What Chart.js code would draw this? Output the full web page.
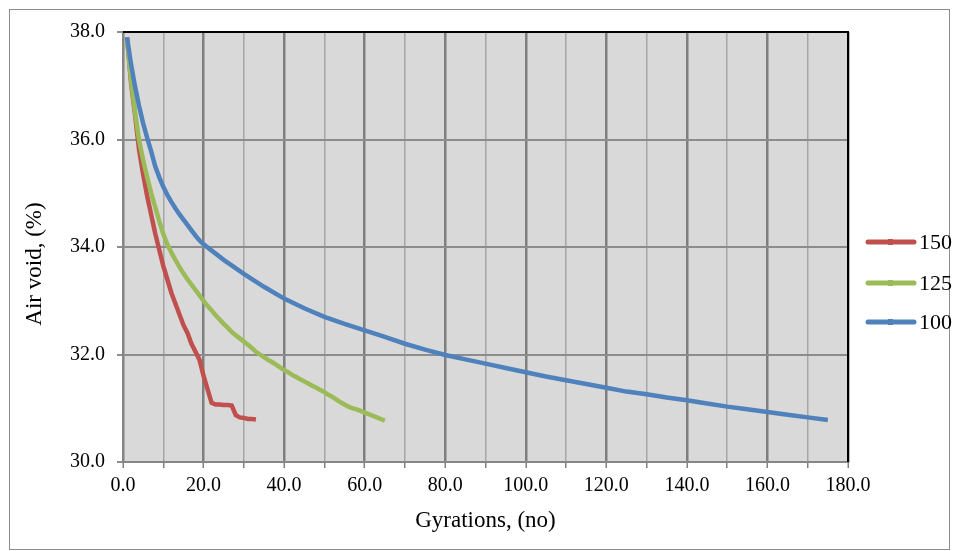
<!DOCTYPE html>
<html lang="en">
<head>
<meta charset="UTF-8">
<title>Air void vs gyrations</title>
<script src="https://cdn.jsdelivr.net/npm/chart.js"></script>
<style>
  html, body { margin: 0; padding: 0; background: #fff; }
</style>
</head>
<body>
<canvas id="myChart" width="958" height="551"></canvas>
<script>
  // series labels (legend order)
  const seriesNames = ['150', '125', '100'];

  // 150 series
  const gyr150 = [1, 2, 3, 4, 5, 6, 7, 8, 9, 10, 11, 12, 13, 14, 15, 16, 17, 18, 19, 20,
    21, 22, 23, 24, 25, 26, 27, 28, 29, 30, 31, 32, 33];
  const void150 = [37.90, 37.05, 36.45, 35.80, 35.35, 34.95, 34.60, 34.25, 33.95, 33.65,
    33.40, 33.15, 32.95, 32.75, 32.55, 32.40, 32.20, 32.05, 31.90, 31.60,
    31.35, 31.10, 31.07, 31.07, 31.06, 31.06, 31.05, 30.87, 30.83, 30.82, 30.80, 30.80, 30.79];

  // 125 series
  const gyr125 = [1, 2, 3, 4, 5, 6, 7, 8, 9, 10, 11, 12, 13, 14, 15, 16, 17, 18, 19, 20,
    21, 22, 23, 24, 25, 26, 27, 28, 29, 30, 31, 32, 33, 34, 35, 36, 37, 38, 39, 40,
    41, 42, 43, 44, 45, 46, 47, 48, 49, 50, 51, 52, 53, 54, 55, 56, 57, 58, 59, 60,
    61, 62, 63, 64, 65];
  const void125 = [37.85, 37.10, 36.50, 35.98, 35.62, 35.30, 35.00, 34.74, 34.48, 34.24,
    34.05, 33.90, 33.76, 33.63, 33.51, 33.40, 33.30, 33.20, 33.10, 33.00,
    32.90, 32.82, 32.73, 32.65, 32.57, 32.50, 32.42, 32.36, 32.30, 32.24,
    32.18, 32.12, 32.05, 32.00, 31.95, 31.90, 31.86, 31.81, 31.76, 31.71,
    31.67, 31.62, 31.58, 31.54, 31.50, 31.46, 31.42, 31.38, 31.34, 31.30,
    31.25, 31.21, 31.16, 31.11, 31.07, 31.03, 31.00, 30.98, 30.95, 30.92,
    30.89, 30.86, 30.83, 30.80, 30.77];

  // 100 series
  const gyr100 = [1, 2, 3, 4, 5, 6, 7, 8, 9, 10, 11, 12, 13, 14, 15, 16, 17, 18, 19, 20,
    25, 30, 35, 40, 45, 50, 55, 60, 65, 70, 75, 80, 85, 90, 95, 100,
    105, 110, 115, 120, 125, 130, 135, 140, 145, 150, 155, 160, 165, 170, 175];
  const void100 = [37.90, 37.40, 36.98, 36.62, 36.30, 36.03, 35.78, 35.50, 35.30, 35.12,
    34.97, 34.84, 34.72, 34.61, 34.51, 34.41, 34.31, 34.21, 34.12, 34.05,
    33.76, 33.50, 33.26, 33.04, 32.86, 32.70, 32.57, 32.45, 32.33, 32.20,
    32.09, 31.99, 31.91, 31.83, 31.75, 31.67, 31.59, 31.52, 31.45, 31.38,
    31.31, 31.26, 31.20, 31.15, 31.09, 31.03, 30.98, 30.93, 30.88, 30.83, 30.78];

  // axis ticks
  const yTicks = [30, 32, 34, 36, 38];
  const xMin = 0, xMax = 180, xStep = 10, xLabelStep = 20;

  const colors = ['#c0504d', '#9bbb59', '#4f81bd'];
  const serif = '"Liberation Serif", "Times New Roman", serif';

  function pairs(xs, ys) {
    return xs.map((x, i) => ({ x: x, y: ys[i] }));
  }

  const frame = {
    id: 'frame',
    beforeDraw(chart) {
      const { ctx, chartArea: a } = chart;
      ctx.save();
      ctx.fillStyle = '#fff';
      ctx.fillRect(0, 0, chart.width, chart.height);
      ctx.strokeStyle = '#8c8c8c';
      ctx.lineWidth = 1;
      ctx.strokeRect(9.5, 9.5, 940, 540);
      ctx.fillStyle = '#d9d9d9';
      ctx.fillRect(a.left, a.top, a.right - a.left, a.bottom - a.top);
      ctx.restore();
    },
    afterDraw(chart) {
      const { ctx, chartArea: a } = chart;
      ctx.save();
      // black top / right frame of the plot area
      ctx.strokeStyle = '#000';
      ctx.lineWidth = 2;
      ctx.beginPath();
      ctx.moveTo(a.left, a.top);
      ctx.lineTo(a.right, a.top);
      ctx.lineTo(a.right, a.bottom);
      ctx.stroke();

      // y axis title
      ctx.save();
      ctx.translate(35, 264);
      ctx.rotate(-Math.PI / 2);
      ctx.font = '23px ' + serif;
      ctx.fillStyle = '#000';
      ctx.textAlign = 'center';
      ctx.textBaseline = 'middle';
      ctx.fillText('Air void, (%)', 0, 0);
      ctx.restore();

      // legend on the right
      const rowY = [242, 283, 322];
      ctx.font = '22px ' + serif;
      ctx.textBaseline = 'middle';
      chart.data.datasets.forEach((ds, i) => {
        const y = rowY[i];
        ctx.strokeStyle = ds.borderColor;
        ctx.lineWidth = 5;
        ctx.lineCap = 'round';
        ctx.beginPath();
        ctx.moveTo(868, y);
        ctx.lineTo(914, y);
        ctx.stroke();
        ctx.fillStyle = ds.borderColor;
        ctx.fillRect(888, y - 3, 5, 6);
        ctx.fillStyle = '#000';
        ctx.fillText(ds.label, 919, y + 1);
      });
      ctx.restore();
    }
  };

  const ctx = document.getElementById('myChart');
  new Chart(ctx, {
    type: 'line',
    data: {
      datasets: [
        { label: seriesNames[0], data: pairs(gyr150, void150), borderColor: colors[0], order: 2 },
        { label: seriesNames[1], data: pairs(gyr125, void125), borderColor: colors[1], order: 1 },
        { label: seriesNames[2], data: pairs(gyr100, void100), borderColor: colors[2], order: 0 }
      ].map(d => Object.assign(d, {
        backgroundColor: d.borderColor,
        borderWidth: 4.5,
        pointRadius: 0,
        tension: 0,
        fill: false
      }))
    },
    options: {
      responsive: false,
      animation: false,
      devicePixelRatio: 1,
      layout: { padding: { left: 0, top: 32, right: 110, bottom: 0 } },
      plugins: {
        legend: { display: false },
        tooltip: { enabled: false }
      },
      scales: {
        x: {
          type: 'linear',
          min: xMin,
          max: xMax,
          afterFit: s => { s.height = 89; },
          afterBuildTicks: s => {
            s.ticks = [];
            for (let v = xMin; v <= xMax; v += xStep) s.ticks.push({ value: v });
          },
          grid: {
            color: c => (c.tick && c.tick.value % xLabelStep === 0) ? '#7f7f7f' : '#a6a6a6',
            lineWidth: c => (c.tick && c.tick.value % xLabelStep === 0) ? 2.5 : 1.5,
            tickColor: '#808080',
            tickWidth: 1.5,
            tickLength: 6
          },
          border: { color: '#868686', width: 2 },
          ticks: {
            autoSkip: false,
            maxRotation: 0,
            padding: 6,
            color: '#000',
            font: { family: serif, size: 20 },
            callback: v => (v % xLabelStep === 0) ? v.toFixed(1) : ''
          },
          title: {
            display: true,
            text: 'Gyrations, (no)',
            color: '#000',
            font: { family: serif, size: 23 },
            padding: { top: 0, bottom: 16 }
          }
        },
        y: {
          min: yTicks[0],
          max: yTicks[yTicks.length - 1],
          afterFit: s => { s.width = 123; },
          afterBuildTicks: s => { s.ticks = yTicks.map(v => ({ value: v })); },
          grid: {
            color: '#8c8c8c',
            lineWidth: 2,
            tickColor: '#8c8c8c',
            tickLength: 6
          },
          border: { color: '#868686', width: 2 },
          ticks: {
            padding: 12,
            color: '#000',
            font: { family: serif, size: 20 },
            callback: v => v.toFixed(1)
          },
          title: { display: false }
        }
      }
    },
    plugins: [frame]
  });
</script>
</body>
</html>
